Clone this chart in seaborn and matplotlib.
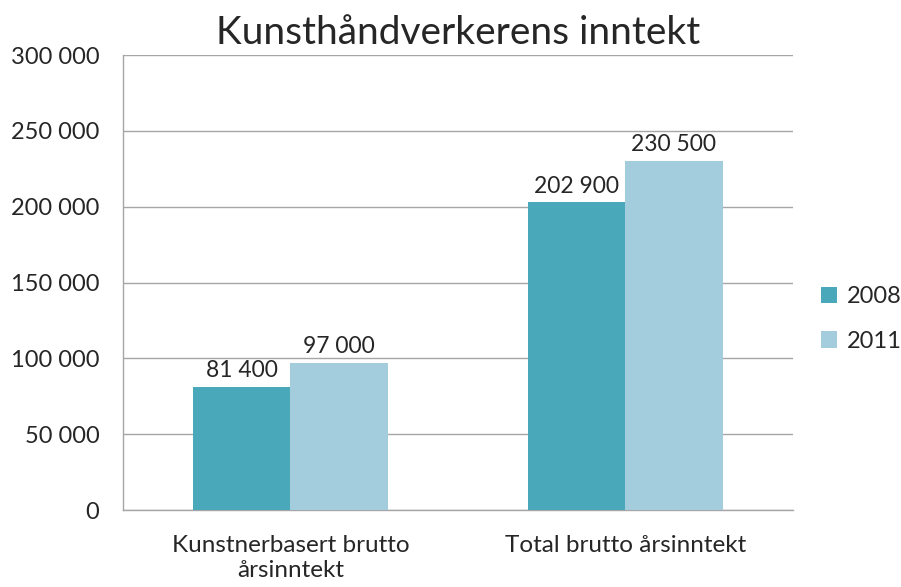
import pandas as pd
import matplotlib.pyplot as plt
import seaborn as sns

# data
categories = ['Kunstnerbasert brutto\nårsinntekt', 'Total brutto årsinntekt']
years = ['2008', '2011']
values_2008 = [81400, 202900]
values_2011 = [97000, 230500]
colors = ['#4aa8bb', '#a3cddc']

df = pd.DataFrame({
    'kategori': categories * 2,
    'år': [years[0]] * 2 + [years[1]] * 2,
    'inntekt': values_2008 + values_2011,
})

sns.set_style('white')
plt.rcParams['font.family'] = ['Lato', 'DejaVu Sans']

fig = plt.figure(figsize=(9.01, 5.87), dpi=100)
ax = fig.add_axes([0.1365, 0.131, 0.7435, 0.775])

sns.barplot(data=df, x='kategori', y='inntekt', hue='år', palette=colors,
            width=0.58, saturation=1, linewidth=0, ax=ax, zorder=3)

def fmt(v):
    return f'{int(v):,}'.replace(',', ' ')

for cont in ax.containers:
    ax.bar_label(cont, labels=[fmt(v) for v in cont.datavalues],
                 fontsize=16.5, padding=4)

ax.set_ylim(0, 300000)
ax.set_xlim(-0.5, 1.5)
yt = list(range(0, 300001, 50000))
ax.set_yticks(yt)
ax.set_yticklabels([fmt(v) for v in yt], fontsize=17)
ax.yaxis.grid(True, color='#a6a6a6', linewidth=1, zorder=0)
ax.tick_params(axis='x', labelsize=17.5, length=0, pad=18)
ax.tick_params(axis='y', length=0, pad=17)
ax.set_xlabel('')
ax.set_ylabel('')

# category boundary ticks on x axis
ax.set_xticks([-0.5, 0.5, 1.5], minor=True)
ax.tick_params(axis='x', which='minor', length=6, color='#a6a6a6', width=1, direction='out')

for s in ['top', 'right']:
    ax.spines[s].set_visible(False)
for s in ['left', 'bottom']:
    ax.spines[s].set_color('#a6a6a6')
    ax.spines[s].set_linewidth(1)

ax.set_title('Kunsthåndverkerens inntekt', fontsize=28, pad=8)

ax.legend(frameon=False, fontsize=17, loc='center left', bbox_to_anchor=(1.01, 0.42),
          handlelength=0.7, handleheight=0.7, handletextpad=0.4, labelspacing=1.0)

fig.savefig('out.png', dpi=100)
